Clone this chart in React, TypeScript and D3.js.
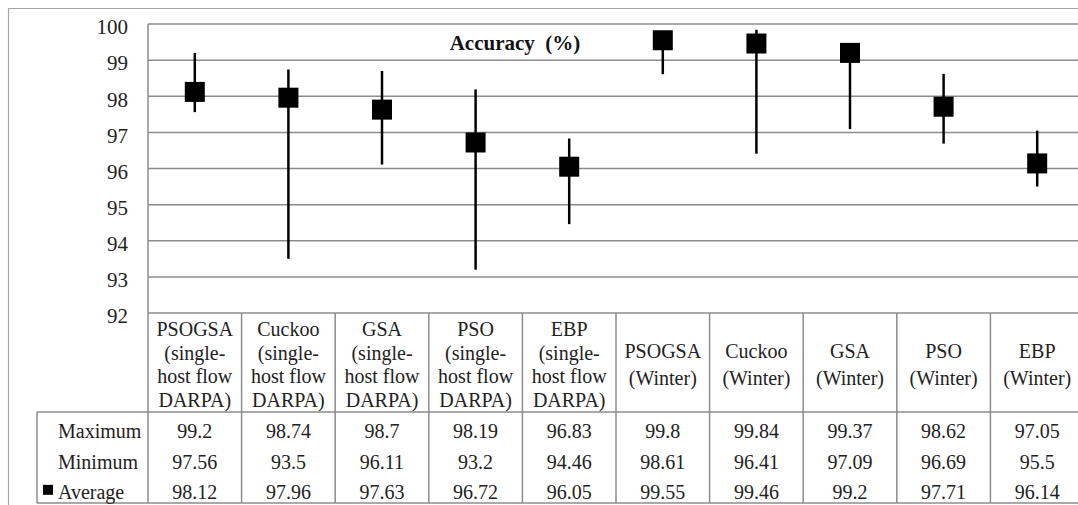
import React from 'react';
import { scaleBand, scaleLinear } from 'd3';

// category header lines (as they wrap in the data table)
const categories = [
  ['PSOGSA', '(single-', 'host flow', 'DARPA)'],
  ['Cuckoo', '(single-', 'host flow', 'DARPA)'],
  ['GSA', '(single-', 'host flow', 'DARPA)'],
  ['PSO', '(single-', 'host flow', 'DARPA)'],
  ['EBP', '(single-', 'host flow', 'DARPA)'],
  ['PSOGSA', '(Winter)'],
  ['Cuckoo', '(Winter)'],
  ['GSA', '(Winter)'],
  ['PSO', '(Winter)'],
  ['EBP', '(Winter)'],
];
const maximum = [99.2, 98.74, 98.7, 98.19, 96.83, 99.8, 99.84, 99.37, 98.62, 97.05];
const minimum = [97.56, 93.5, 96.11, 93.2, 94.46, 98.61, 96.41, 97.09, 96.69, 95.5];
const average = [98.12, 97.96, 97.63, 96.72, 96.05, 99.55, 99.46, 99.2, 97.71, 96.14];
const yTicks = [92, 93, 94, 95, 96, 97, 98, 99, 100];
const rowLabels = ['Maximum', 'Minimum', 'Average'];

const width = 1078;
const height = 505;
const plotLeft = 148;
const plotRight = 1084;
const plotTop = 24;
const plotBottom = 313;
const headerBottom = 412;
const tableBottom = 503;
const labelLeft = 37;
const grid = '#8c8c8c';
const ink = '#222';
const face = "'Liberation Serif', 'Tinos', serif";

const App = () => {
  const keys = categories.map((c, i) => `c${i}`);
  const x = scaleBand().domain(keys).range([plotLeft, plotRight]).padding(0);
  const y = scaleLinear().domain([92, 100]).range([plotBottom, plotTop]);
  const rowH = (tableBottom - headerBottom) / 3;
  const rows = [maximum, minimum, average];
  const cx = (i: number) => (x(keys[i]) as number) + x.bandwidth() / 2;
  const marker = 20;

  return (
    <svg width={width} height={height} style={{ position: 'absolute', left: 0, top: 0, fontFamily: face }}>
      <style>{`text { font-family: ${face}; }`}</style>
      <rect x={0} y={0} width={width} height={height} fill="#fff" />
      {/* chart area border */}
      <path d={`M8.5,${height} V8.5 H${width}`} fill="none" stroke="#a6a6a6" strokeWidth={1.2} />

      {/* gridlines */}
      {yTicks.map(t => (
        <g key={`grid-${t}`}>
          <line x1={plotLeft} x2={plotRight} y1={y(t)} y2={y(t)} stroke={grid} strokeWidth={1.5} />
          <text x={128} y={y(t) + 3} dy="0.35em" textAnchor="end" fontSize={21} fill={ink}>
            {t}
          </text>
        </g>
      ))}

      {/* table lines */}
      <line x1={plotLeft} x2={plotLeft} y1={plotTop} y2={tableBottom} stroke={grid} strokeWidth={1.5} />
      <line x1={labelLeft} x2={plotRight} y1={headerBottom} y2={headerBottom} stroke={grid} strokeWidth={1.5} />
      <line x1={labelLeft} x2={plotRight} y1={tableBottom} y2={tableBottom} stroke={grid} strokeWidth={1.5} />
      <line x1={labelLeft} x2={labelLeft} y1={headerBottom} y2={tableBottom} stroke={grid} strokeWidth={1.5} />
      {keys.map(k => (
        <line
          key={`col-${k}`}
          x1={(x(k) as number) + x.bandwidth()}
          x2={(x(k) as number) + x.bandwidth()}
          y1={plotBottom}
          y2={tableBottom}
          stroke={grid}
          strokeWidth={1.5}
        />
      ))}

      {/* title */}
      <text x={515} y={43} dy="0.35em" textAnchor="middle" fontSize={21} fontWeight="bold" fill="#111" style={{ whiteSpace: 'pre' }}>
        {'Accuracy  (%)'}
      </text>

      {/* error bars + average markers */}
      {keys.map((k, i) => (
        <g key={`mark-${k}`}>
          <line x1={cx(i)} x2={cx(i)} y1={y(maximum[i])} y2={y(minimum[i])} stroke="#000" strokeWidth={2.5} />
          <rect x={cx(i) - marker / 2} y={y(average[i]) - marker / 2} width={marker} height={marker} fill="#000" />
        </g>
      ))}

      {/* category headers */}
      {categories.map((lines, i) => {
        const lh = lines.length > 2 ? 23.5 : 26.5;
        const mid = (plotBottom + headerBottom) / 2 + 2;
        const start = mid - ((lines.length - 1) * lh) / 2;
        return (
          <text key={`cat-${i}`} x={cx(i)} textAnchor="middle" fontSize={20} fill={ink}>
            {lines.map((l, j) => (
              <tspan key={j} x={cx(i)} y={start + j * lh} dy="0.35em">
                {l}
              </tspan>
            ))}
          </text>
        );
      })}

      {/* data rows */}
      {rows.map((vals, r) => {
        const ty = headerBottom + rowH * r + rowH / 2 + 4;
        return (
          <g key={`row-${r}`}>
            <text x={58} y={ty} dy="0.35em" fontSize={20} fill={ink}>
              {rowLabels[r]}
            </text>
            {vals.map((v, i) => (
              <text key={i} x={cx(i)} y={ty} dy="0.35em" textAnchor="middle" fontSize={20} fill={ink}>
                {v}
              </text>
            ))}
          </g>
        );
      })}
      {/* legend key for the average marker */}
      <rect x={43} y={headerBottom + rowH * 2.5 - 3} width={10} height={10} fill="#000" />
    </svg>
  );
};

export default App;
